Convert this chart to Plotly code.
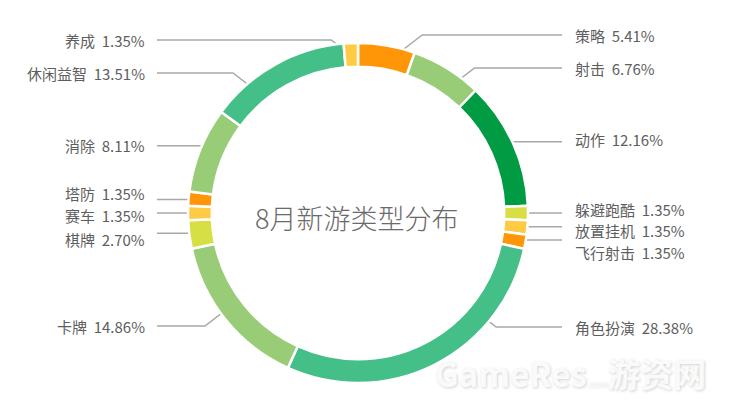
import numpy as np
import plotly.graph_objects as go

# ---- data ----
categories = ["策略", "射击", "动作", "躲避跑酷", "放置挂机", "飞行射击", "角色扮演",
              "卡牌", "棋牌", "赛车", "塔防", "消除", "休闲益智", "养成"]
percent = [5.41, 6.76, 12.16, 1.35, 1.35, 1.35, 28.38,
           14.86, 2.70, 1.35, 1.35, 8.11, 13.51, 1.35]
title_text = "8月新游类型分布"

# ---- style / layout ----
ORANGE, LGREEN, DGREEN, YGREEN, YELLOW, MGREEN = (
    "#FF9608", "#99CC77", "#009B42", "#D6E044", "#FFCB44", "#44BF88")
colors = [ORANGE, LGREEN, DGREEN, YGREEN, YELLOW, ORANGE, MGREEN,
          LGREEN, YGREEN, YELLOW, ORANGE, LGREEN, MGREEN, YELLOW]
anchor_frac = [0.66, 0.70, 0.45, 0.5, 0.5, 0.5, 0.27, 0.55, 0.5, 0.5, 0.5, 0.6, 0.28, 0.3]
label_y = [35, 68, 139, 209, 230, 252, 327, 326, 239, 215, 193, 145, 73, 40]
bend = [True, True, False, False, False, False, True, True, False, False, False, False, True, True]

W, H = 733, 406
OFF = 8  # page offset of the figure inside the browser window
CX, CY, R = 358, 213, 170
HOLE = 0.86
R_ANCHOR = 160
X_END_R, X_END_L = 562, 157
X_TXT_R, X_TXT_L = 573, 147
LINE_COLOR = "#A8A8A8"
TEXT_COLOR = "#5E5E5E"

fx, fy = CX - OFF, CY - OFF  # centre in figure pixels
fig = go.Figure()
fig.add_trace(go.Pie(
    labels=categories, values=percent, sort=False, direction="clockwise",
    rotation=0, hole=HOLE, textinfo="none", hoverinfo="label+percent",
    marker=dict(colors=colors, line=dict(color="white", width=2.5)),
    domain=dict(x=[(fx - R) / W, (fx + R) / W], y=[(H - fy - R) / H, (H - fy + R) / H]),
    showlegend=False,
))

vals = np.array(percent, dtype=float)
frac = vals / vals.sum()
start = np.concatenate([[0], np.cumsum(frac)[:-1]]) * 360
span = frac * 360

annotations = []
for i, name in enumerate(categories):
    ang = np.deg2rad(start[i] + anchor_frac[i] * span[i])
    sx = CX + R_ANCHOR * np.sin(ang)
    sy = CY - R_ANCHOR * np.cos(ang)
    side = 1 if np.sin(ang) > 0 else -1
    if bend[i]:
        ly = label_y[i]
        ex = sx + side * 1.3 * abs(ly - sy)
        xs, ys = [sx, ex, X_END_R if side > 0 else X_END_L], [sy, ly, ly]
    else:
        xs, ys = [sx, X_END_R if side > 0 else X_END_L], [sy, sy]
    fig.add_trace(go.Scatter(x=xs, y=ys, mode="lines", hoverinfo="skip",
                             line=dict(color=LINE_COLOR, width=1.5), showlegend=False))
    annotations.append(dict(
        x=X_TXT_R if side > 0 else X_TXT_L, y=label_y[i], xref="x", yref="y",
        text=f"{name}  {percent[i]:.2f}%", showarrow=False,
        xanchor="left" if side > 0 else "right", yanchor="middle",
        font=dict(family="Noto Sans CJK SC", size=15, color=TEXT_COLOR)))

annotations.append(dict(
    x=CX - 2, y=217, xref="x", yref="y", text=title_text, showarrow=False,
    xanchor="center", yanchor="middle",
    font=dict(family="Noto Sans CJK SC", size=27, color="#6A6A6A", weight=300)))

annotations.append(dict(
    x=570, y=373, xref="x", yref="y",
    text="<b>GameRes</b><span style='font-size:9px'>.com</span><b>游资网</b>",
    showarrow=False, xanchor="center", yanchor="middle",
    font=dict(family="Noto Sans CJK SC", size=33, color="#FAFAFA",
              shadow="1px 1px 3px rgba(0,0,0,0.18)")))

fig.update_layout(
    width=W, height=H, margin=dict(l=0, r=0, t=0, b=0),
    paper_bgcolor="white", plot_bgcolor="rgba(0,0,0,0)",
    xaxis=dict(range=[OFF, W + OFF], visible=False, domain=[0, 1], fixedrange=True),
    yaxis=dict(range=[H + OFF, OFF], visible=False, domain=[0, 1], fixedrange=True),
    annotations=annotations,
)

fig.write_html("out.html")
